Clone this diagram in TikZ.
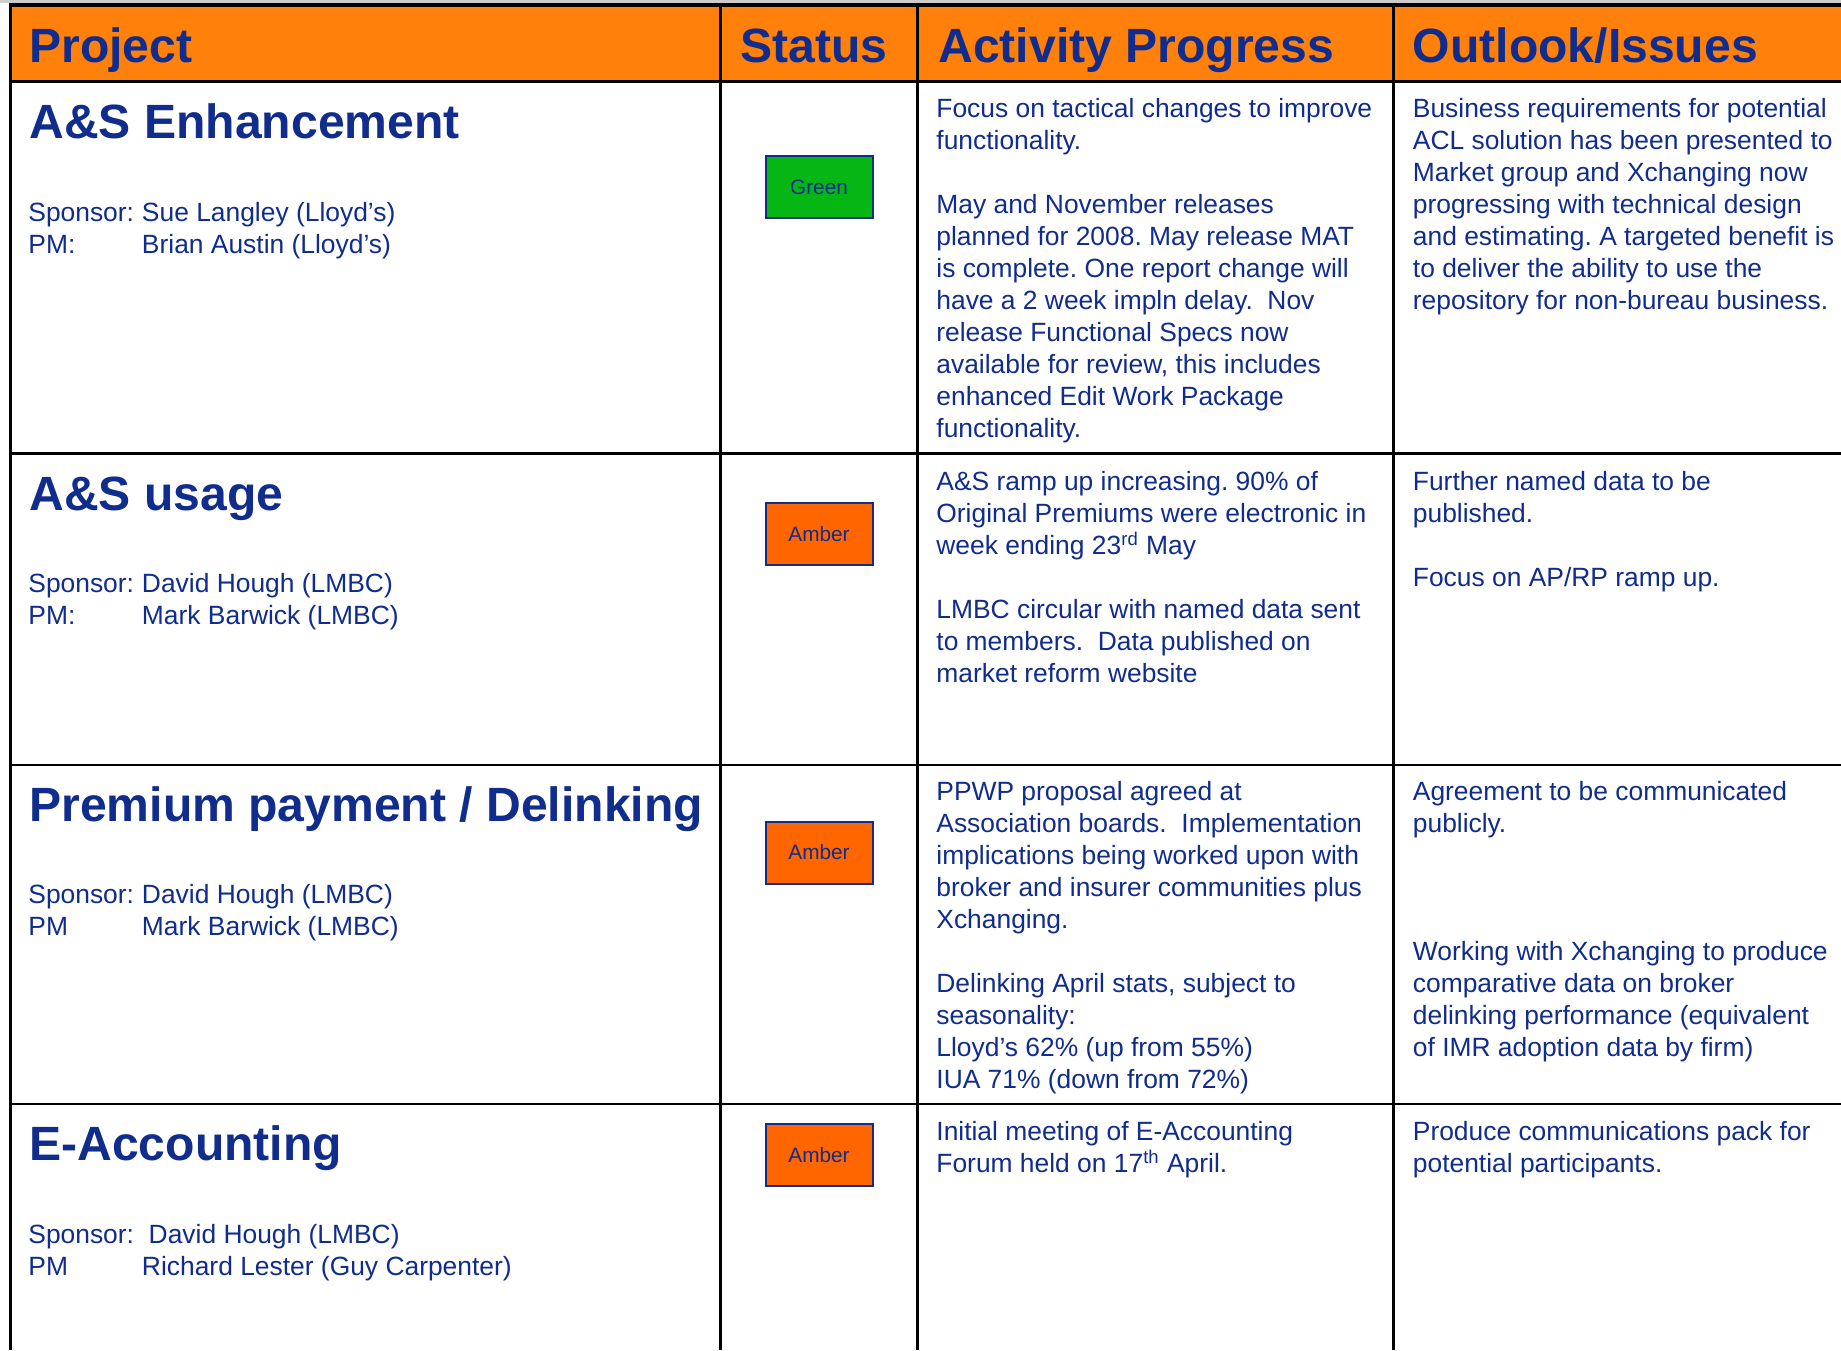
\documentclass[tikz,border=0pt]{standalone}
\usepackage{fontspec}
\setmainfont{Liberation Sans}
\definecolor{navy}{RGB}{16,44,140}
\definecolor{headorange}{RGB}{255,128,10}
\definecolor{ambercol}{RGB}{255,102,0}
\definecolor{greencol}{RGB}{6,182,20}
\tikzset{
    headtext/.style = {anchor = base west, inner sep = 0, text = navy, font = \fontsize{24.05}{28}\selectfont\bfseries},
    titletext/.style = {headtext},
    bodytext/.style = {anchor = north west, yshift = 11.2pt, inner sep = 0, text = navy, align = left, font = \fontsize{13.2}{16}\selectfont\frenchspacing},
    statusbox/.style = {draw = navy, line width = 1pt, minimum width = 53.5pt, minimum height = 31pt, inner sep = 0, text = navy, font = \fontsize{10.4}{12}\selectfont},
    gridline/.style = {line width = 1.35pt}
}
\newcommand{\tabto}[1]{\makebox[56.8pt][l]{#1}}
\begin{document}
\begin{tikzpicture}[x = 0.5pt, y = -0.5pt]
    \useasboundingbox (0,0) rectangle (1841,1350);
    \fill[white] (0,0) rectangle (1841,1350);
    \fill[gray!40] (0,0) rectangle (1841,2.5);
    \fill[headorange] (10.5,5.3) rectangle (1841,81.5);
    \foreach \y in {81.5, 453.8, 765, 1104}
        \draw[gridline] (10.5,\y) -- (1841,\y);
    \foreach \x in {720.3, 917.5, 1393.5}
        \draw[gridline] (\x,5.3) -- (\x,1350);
    \draw[line width = 2pt] (9,5.3) -- (1841,5.3);
    \draw[line width = 1.5pt] (10.5,3.3) -- (10.5,1350);
    \node[headtext] (hproject) at (29,62) {Project};
    \node[headtext] (hstatus) at (740.2,62) {Status};
    \node[headtext] (hactivity) at (938,62) {Activity Progress};
    \node[headtext] (houtlook) at (1412.5,62) {Outlook/Issues};
    \node[titletext] (title1) at (29,138.3) {A\&S Enhancement};
    \node[titletext] (title2) at (29,510.4) {A\&S usage};
    \node[titletext] (title3) at (29,821.6) {Premium payment / Delinking};
    \node[titletext] (title4) at (29,1160.3) {E-Accounting};
    \node[bodytext] (people1) at (28,220.7) {\strut\tabto{Sponsor:}Sue Langley (Lloyd’s)\\\tabto{PM:}Brian Austin (Lloyd’s)};
    \node[bodytext] (people2) at (28,592.2) {\strut\tabto{Sponsor:}David Hough (LMBC)\\\tabto{PM:}Mark Barwick (LMBC)};
    \node[bodytext] (people3) at (28,903.4) {\strut\tabto{Sponsor:}David Hough (LMBC)\\\tabto{PM}Mark Barwick (LMBC)};
    \node[bodytext] (people4) at (28,1242.7) {\strut Sponsor:\ \ David Hough (LMBC)\\\tabto{PM}Richard Lester (Guy Carpenter)};
    \foreach \n/\y/\c/\t in {1/187/greencol/Green, 2/534.3/ambercol/Amber, 3/852.5/ambercol/Amber, 4/1155/ambercol/Amber}
        \node[statusbox, fill = \c] (status\n) at (819,\y) {\t};
    \node[bodytext] (activity1) at (936,117.5) {\strut Focus on tactical changes to improve\\functionality.\\[16pt]May and November releases\\planned for 2008. May release MAT\\is complete. One report change will\\have a 2 week impln delay.\ \ Nov\\release Functional Specs now\\available for review, this includes\\enhanced Edit Work Package\\functionality.};
    \node[bodytext] (activity2) at (936,490) {\strut A\&S ramp up increasing. 90\% of\\Original Premiums were electronic in\\week ending 23\textsuperscript{rd} May\\[16pt]LMBC circular with named data sent\\to members.\ \ Data published on\\market reform website};
    \node[bodytext] (activity3) at (936,800) {\strut PPWP proposal agreed at\\Association boards.\ \ Implementation\\implications being worked upon with\\broker and insurer communities plus\\Xchanging.\\[16pt]Delinking April stats, subject to\\seasonality:\\Lloyd’s 62\% (up from 55\%)\\IUA 71\% (down from 72\%)};
    \node[bodytext] (activity4) at (936,1140) {\strut Initial meeting of E-Accounting\\Forum held on 17\textsuperscript{th} April.};
    \node[bodytext] (outlook1) at (1412.5,117.5) {\strut Business requirements for potential\\ACL solution has been presented to\\Market group and Xchanging now\\progressing with technical design\\and estimating. A targeted benefit is\\to deliver the ability to use the\\repository for non-bureau business.};
    \node[bodytext] (outlook2) at (1412.5,490) {\strut Further named data to be\\published.\\[16pt]Focus on AP/RP ramp up.};
    \node[bodytext] (outlook3) at (1412.5,800) {\strut Agreement to be communicated\\publicly.\\[48pt]Working with Xchanging to produce\\comparative data on broker\\delinking performance (equivalent\\of IMR adoption data by firm)};
    \node[bodytext] (outlook4) at (1412.5,1140) {\strut Produce communications pack for\\potential participants.};
\end{tikzpicture}
\end{document}
